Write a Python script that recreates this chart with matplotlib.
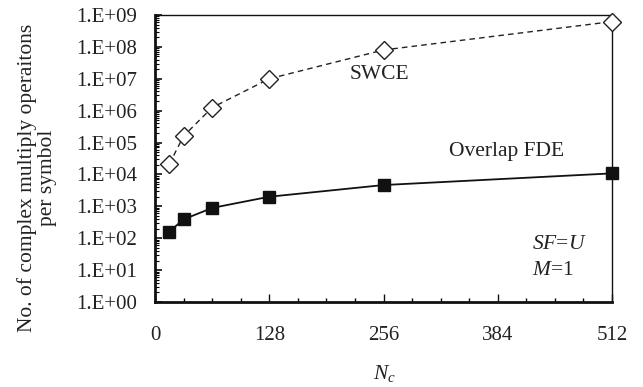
import numpy as np
import matplotlib
matplotlib.use('Agg')
import matplotlib.pyplot as plt
from matplotlib.ticker import FixedLocator, LogLocator, NullFormatter

plt.rcParams['font.family'] = ['Liberation Serif', 'DejaVu Serif']
plt.rcParams['mathtext.fontset'] = 'custom'
plt.rcParams['mathtext.it'] = 'Liberation Serif:italic'
plt.rcParams['mathtext.rm'] = 'Liberation Serif'

# Data
nc = [16, 32, 64, 128, 256, 512]
swce = [2.1e4, 1.6e5, 1.25e6, 1.0e7, 8.0e7, 6.2e8]
overlap_fde = [160, 390, 890, 2000, 4650, 1.08e4]
y_ticks = [10.0 ** k for k in range(0, 10)]
y_labels = ['1.E+%02d' % k for k in range(0, 10)]
x_ticks = [0, 128, 256, 384, 512]

fig = plt.figure(figsize=(6.43, 3.87), dpi=100)
ax = fig.add_axes([155 / 643, 1 - 302 / 387, 457 / 643, 287 / 387])

ax.plot(nc, swce, linestyle=(0, (4, 3)), color='#222222', linewidth=1.0,
        marker='D', markersize=9, markerfacecolor='white',
        markeredgecolor='#222222', markeredgewidth=1.0, clip_on=False, zorder=3)
ax.plot(nc, overlap_fde, linestyle='-', color='#111111', linewidth=1.3,
        marker='s', markersize=8, markerfacecolor='#111111',
        markeredgecolor='#111111', clip_on=False, zorder=3)

ax.set_yscale('log')
ax.set_ylim(1, 1e9)
ax.set_xlim(0, 512)
ax.set_yticks(y_ticks)
ax.set_yticklabels(y_labels)
ax.yaxis.set_minor_locator(LogLocator(base=10, subs=np.arange(2, 10), numticks=20))
ax.yaxis.set_minor_formatter(NullFormatter())
ax.set_xticks(x_ticks)
ax.xaxis.set_minor_locator(FixedLocator(np.arange(0, 513, 32)))

ax.tick_params(axis='both', which='major', direction='in', labelsize=15,
               colors='#111111', labelcolor='#222222')
ax.tick_params(axis='y', which='major', length=5, width=1.2, pad=13)
ax.tick_params(axis='y', which='minor', direction='in', length=3, width=0.8)
ax.tick_params(axis='x', which='major', length=6, width=1.0, pad=17)
ax.tick_params(axis='x', which='minor', direction='in', length=3, width=1.0)
ax.tick_params(top=False, right=False, which='both')

for side in ['left', 'bottom']:
    ax.spines[side].set_linewidth(2.0)
    ax.spines[side].set_color('#111111')
for side in ['top', 'right']:
    ax.spines[side].set_linewidth(1.0)
    ax.spines[side].set_color('#111111')

fig.text(37 / 643, 1 - 178 / 387, 'No. of complex multiply operaitons\nper symbol',
         rotation=90, fontsize=15.5, color='#222222', ha='center', va='center',
         multialignment='center', linespacing=1.1)
fig.text(384 / 643, 1 - 373 / 387, '$N_c$', fontsize=15.5, color='#222222',
         ha='center', va='center')

ax.text(0.492, 0.791, 'SWCE', fontsize=15.5, ha='center', va='center',
        color='#222222', transform=ax.transAxes)
ax.text(0.770, 0.526, 'Overlap FDE', fontsize=15.5, ha='center', va='center',
        color='#222222', transform=ax.transAxes)
ax.text(0.825, 0.202, '$SF$=$U$', fontsize=15.5, ha='left', va='center',
        color='#222222', transform=ax.transAxes)
ax.text(0.825, 0.111, '$M$=1', fontsize=15.5, ha='left', va='center',
        color='#222222', transform=ax.transAxes)

plt.savefig('out.png', dpi=100)
